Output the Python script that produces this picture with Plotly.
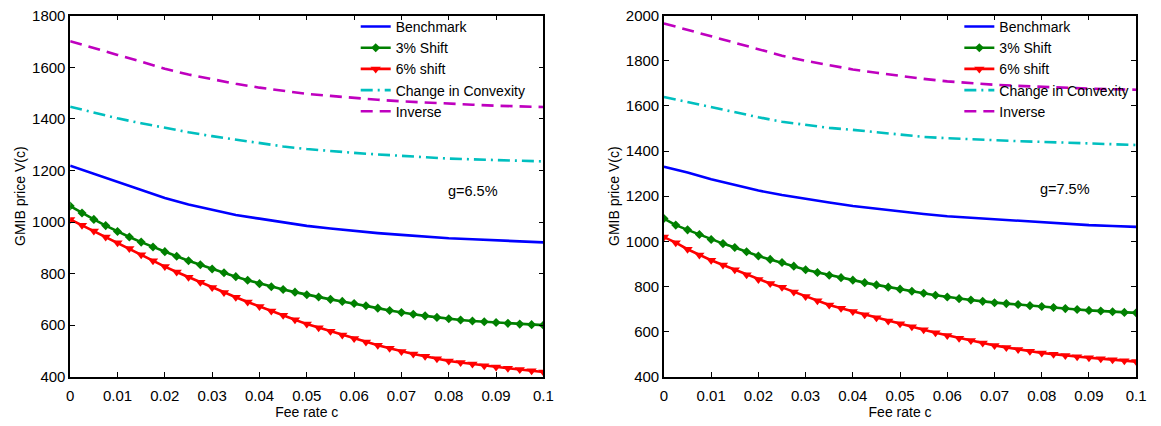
import plotly.graph_objects as go

# Fee rate grids
fee_fine = [i * 0.0025 for i in range(41)]      # grid of the marker series
fee_coarse = [i * 0.005 for i in range(21)]     # grid of the plain lines

# ---- g = 6.5% ----
bench_65 = [1218, 1186, 1155, 1122, 1093, 1068, 1046, 1027, 1013, 999, 985,
            975, 965, 957, 950, 943, 937, 933, 929, 925, 921]
shift3_65 = [1062, 1035, 1010, 986, 963, 942, 922, 903, 885, 867, 850, 834, 818,
             803, 788, 774, 761, 749, 738, 728, 718, 709, 700, 692, 684, 675, 666,
             657, 649, 642, 636, 630, 625, 620, 616, 613, 610, 607, 604, 602, 600]
shift6_65 = [1010, 987, 965, 942, 920, 897, 873, 850, 827, 806, 786, 766, 746,
             727, 708, 690, 672, 655, 638, 621, 604, 590, 576, 562, 548, 535, 522,
             510, 498, 488, 479, 470, 461, 455, 449, 443, 438, 433, 428, 423, 418]
convex_65 = [1447, 1424, 1402, 1383, 1365, 1348, 1333, 1319, 1305, 1293, 1283,
             1275, 1268, 1262, 1256, 1251, 1246, 1243, 1240, 1237, 1235]
inverse_65 = [1701, 1673, 1648, 1622, 1594, 1572, 1553, 1536, 1521, 1508, 1497,
              1489, 1481, 1474, 1468, 1463, 1459, 1455, 1451, 1448, 1446]

# ---- g = 7.5% ----
bench_75 = [1331, 1305, 1275, 1250, 1225, 1205, 1187, 1172, 1157, 1144, 1132,
            1121, 1111, 1104, 1097, 1091, 1085, 1078, 1072, 1068, 1064]
shift3_75 = [1101, 1072, 1051, 1030, 1008, 990, 973, 954, 935, 920, 906, 890, 874,
             862, 850, 839, 828, 817, 807, 797, 788, 779, 770, 761, 753, 746, 740,
             734, 728, 724, 720, 715, 711, 707, 702, 698, 694, 691, 688, 685, 683]
shift6_75 = [1019, 994, 965, 940, 916, 895, 874, 852, 831, 813, 796, 776, 756,
             737, 718, 703, 689, 675, 661, 647, 635, 621, 608, 595, 583, 571, 560,
             549, 538, 530, 521, 513, 505, 500, 494, 489, 484, 480, 475, 471, 467]
convex_75 = [1640, 1617, 1594, 1572, 1550, 1530, 1515, 1503, 1494, 1483, 1472,
             1463, 1457, 1452, 1448, 1444, 1441, 1437, 1433, 1430, 1427]
inverse_75 = [1966, 1937, 1908, 1880, 1850, 1823, 1800, 1780, 1762, 1747, 1733,
              1720, 1709, 1700, 1694, 1689, 1684, 1680, 1677, 1674, 1672]

x_ticks = [i * 0.01 for i in range(11)]
x_labels = ["0", "0.01", "0.02", "0.03", "0.04", "0.05", "0.06", "0.07", "0.08", "0.09", "0.1"]
panel_labels = ["g=6.5%", "g=7.5%"]

FONT = "Liberation Sans, Arial, sans-serif"
LW = 2.6
BLUE, GREEN, RED = "#0000FF", "#008000", "#FF0000"
CYAN, MAGENTA = "#00BFBF", "#BF00BF"

fig = go.Figure()

panels = [
    ("x", "y", "legend", bench_65, shift3_65, shift6_65, convex_65, inverse_65),
    ("x2", "y2", "legend2", bench_75, shift3_75, shift6_75, convex_75, inverse_75),
]
for xa, ya, leg, bench, s3, s6, conv, inv in panels:
    common = dict(xaxis=xa, yaxis=ya, legend=leg, mode="lines")
    fig.add_trace(go.Scatter(x=fee_coarse, y=bench, name="Benchmark",
                             line=dict(color=BLUE, width=LW), **common))
    fig.add_trace(go.Scatter(x=fee_fine, y=s3, name="3% Shift",
                             line=dict(color=GREEN, width=LW),
                             marker=dict(symbol="diamond", size=7, color=GREEN),
                             **{**common, "mode": "lines+markers"}))
    fig.add_trace(go.Scatter(x=fee_fine, y=s6, name="6% shift",
                             line=dict(color=RED, width=LW),
                             marker=dict(symbol="triangle-down", size=9, color=RED),
                             **{**common, "mode": "lines+markers"}))
    fig.add_trace(go.Scatter(x=fee_coarse, y=conv, name="Change in Convexity",
                             line=dict(color=CYAN, width=LW, dash="12px,5px,2px,5px"),
                             **common))
    fig.add_trace(go.Scatter(x=fee_coarse, y=inv, name="Inverse",
                             line=dict(color=MAGENTA, width=LW, dash="12px,7px"),
                             **common))

W, H = 1161, 426
y_dom = [(H - 383) / H, (H - 7) / H]

axis_common = dict(
    showline=True, linecolor="black", linewidth=1.5, mirror="allticks",
    ticks="inside", ticklen=5, tickcolor="black", tickwidth=1,
    showgrid=False, zeroline=False, ticklabeloverflow="allow",
    tickfont=dict(family=FONT, size=15, color="black"),
)

def x_axis(domain, anchor):
    return dict(axis_common, domain=domain, anchor=anchor, range=[0, 0.1],
                tickvals=x_ticks, ticktext=x_labels, ticklabelstandoff=5,
                title=dict(text="Fee rate c", font=dict(family=FONT, size=14, color="black"),
                           standoff=3))

def y_axis(rng, dtick, anchor):
    return dict(axis_common, domain=y_dom, anchor=anchor, range=rng, dtick=dtick,
                title=dict(text="GMIB price V(c)", font=dict(family=FONT, size=14, color="black"),
                           standoff=3))

legend_common = dict(
    bgcolor="rgba(0,0,0,0)", borderwidth=0, yanchor="top", xanchor="left",
    font=dict(family=FONT, size=14, color="black"), tracegroupgap=0,
)

fig.update_layout(
    width=W, height=H,
    margin=dict(l=0, r=0, t=0, b=0),
    paper_bgcolor="white", plot_bgcolor="white",
    xaxis=x_axis([67 / W, 546 / W], "y"),
    yaxis=y_axis([400, 1800], 200, "x"),
    xaxis2=x_axis([668 / W, 1146 / W], "y2"),
    yaxis2=y_axis([400, 2000], 200, "x2"),
    legend=dict(legend_common, x=356 / W, y=1 - 2 / H),
    legend2=dict(legend_common, x=967 / W, y=1 - 2 / H),
    showlegend=True,
    annotations=[
        dict(text=panel_labels[0], x=0.0795, y=1119, xref="x", yref="y",
             showarrow=False, xanchor="left",
             font=dict(family=FONT, size=14.5, color="black")),
        dict(text=panel_labels[1], x=0.0793, y=1234, xref="x2", yref="y2",
             showarrow=False, xanchor="left",
             font=dict(family=FONT, size=14.5, color="black")),
    ],
)

fig.write_html("out.html")
